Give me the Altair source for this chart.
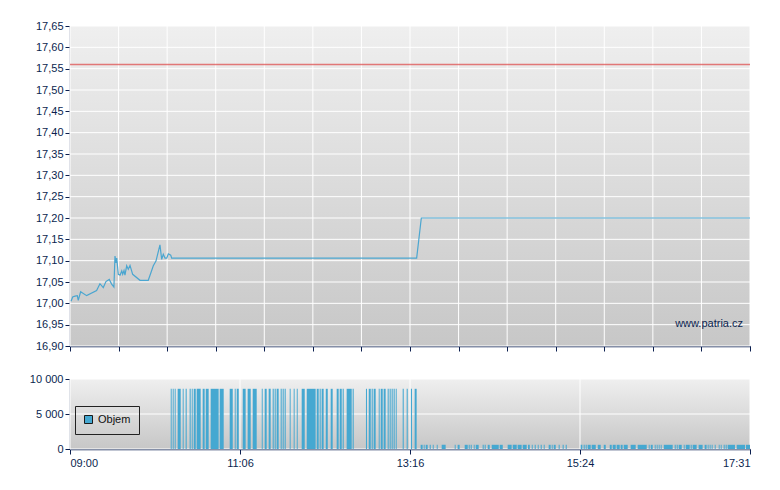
import altair as alt
import pandas as pd

# ---------------- data (minutes after 09:00) ----------------
PRICE_MIN = [0.8, 2, 3.8, 5.5, 6.2, 8, 12.5, 20, 22.5, 25,
             27, 29.5, 31.3, 33, 33.8, 34.6, 35.1, 36.3, 37.6, 38.9,
             39.6, 40.6, 41.3, 42.6, 43.8, 45.1, 47.1, 52.6, 58.8, 60.6,
             62.6, 64.6, 67.6, 68.9, 70.1, 71.4, 72.7, 73.9, 75.7, 76.4,
             260.5, 264, 511]
PRICE = [17.005, 17.015, 17.017, 17.018, 17.007, 17.027, 17.018, 17.03, 17.046, 17.037,
         17.051, 17.056, 17.045, 17.038, 17.111, 17.095, 17.106, 17.068, 17.066, 17.076,
         17.068, 17.077, 17.066, 17.088, 17.080, 17.089, 17.068, 17.054, 17.054, 17.07,
         17.088, 17.099, 17.137, 17.103, 17.115, 17.106, 17.106, 17.116, 17.113, 17.106,
         17.106, 17.20, 17.20]
REF_PRICE = [17.56]

TALL_START = [75.7, 77.2, 78.7, 80.9, 84.7, 86.9, 89.9, 91.5, 93.0, 95.2, 99.7, 102.0,
              105.7, 112.5, 120.0, 123.8, 125.3, 129.8, 133.5, 137.3, 144.1, 146.3,
              149.3, 152.3, 153.8, 155.3, 158.3, 159.8, 161.3, 165.1, 168.1, 170.4,
              174.1, 177.9, 185.4, 187.6, 189.1, 192.2, 195.9, 200.4, 202.7, 204.9,
              207.9, 212.4, 222.4, 224.5, 226.7, 228.2, 232.0, 233.5, 235.7, 238.7,
              240.2, 241.7, 243.2, 244.8, 250.0, 253.0, 256.2, 259.0]
TALL_END = [76.4, 77.9, 79.4, 83.2, 85.4, 87.7, 90.7, 92.2, 94.5, 98.2, 101.2, 104.2,
            111.7, 115.5, 122.3, 124.5, 126.8, 132.0, 135.8, 140.3, 144.8, 147.8,
            150.8, 153.1, 154.6, 156.8, 159.1, 160.6, 162.1, 165.8, 168.8, 171.1,
            176.4, 184.6, 186.9, 188.4, 190.6, 193.7, 197.4, 201.9, 204.2, 205.7,
            211.7, 213.2, 223.2, 226.0, 227.5, 229.7, 232.7, 235.0, 237.2, 239.5,
            241.0, 242.5, 244.0, 245.5, 250.8, 253.8, 257.0, 260.5]
TALL_VOL = 8600

SMALL_START = [263.5, 265.8, 267.3, 270.3, 272.6, 275.6, 279.3, 289.1, 291.3, 296.6,
               299.6, 301.1, 303.4, 304.9, 310.1, 311.6, 313.9, 316.9, 322.9, 328.9,
               332.7, 336.4, 340.2, 344.2, 347.0, 349.2, 351.5, 353.7, 356.0, 359.7,
               362.0, 363.5, 367.2, 370.2, 372.5, 383.8, 386.0, 387.5, 389.0, 392.0,
               396.6, 401.1, 405.6, 407.8, 410.8, 413.8, 416.1, 421.3, 426.6, 434.9,
               436.4, 439.4, 440.9, 442.4, 443.9, 446.2, 454.4, 455.9, 457.4, 461.2,
               462.7, 466.4, 467.9, 472.4, 476.9, 479.2, 480.7, 482.2, 484.5, 487.5,
               489.0, 491.2, 492.7, 494.2, 501.0, 508.0]
SMALL_END = [265.0, 266.5, 268.8, 271.1, 273.3, 276.3, 282.3, 289.8, 292.8, 298.9,
             300.4, 301.9, 304.1, 307.1, 310.9, 312.4, 315.4, 322.2, 325.2, 331.9,
             335.7, 339.4, 343.2, 345.5, 347.7, 350.0, 352.2, 354.5, 356.7, 361.2,
             362.7, 365.0, 368.0, 371.0, 373.3, 385.0, 386.8, 388.3, 391.3, 395.1,
             398.8, 402.6, 407.1, 410.1, 413.1, 415.3, 419.1, 425.1, 433.4, 435.6,
             437.9, 440.1, 441.6, 443.1, 444.6, 452.9, 455.2, 456.7, 459.7, 461.9,
             465.7, 467.2, 470.9, 475.4, 478.4, 479.9, 481.4, 482.9, 485.2, 488.2,
             489.7, 492.0, 493.5, 499.7, 507.3, 511.0]
SMALL_VOL = 600

SESSION_LEN = 511
TIME_LABELS = ["09:00", "11:06", "13:16", "15:24", "17:31"]
TOP_Y_MIN, TOP_Y_MAX, TOP_Y_STEP = 16.90, 17.65, 0.05
VOL_TICKS = [0, 5000, 10000]
SERIES = "Objem"
WATERMARK = "www.patria.cz"

# ---------------- styling ----------------
NAVY = "#0b1f4f"
BLUE = "#45a8d1"
LINE_BLUE = "#4ba6d0"
RED = "#dd5050"
FONT = "Liberation Sans"
W, H_TOP, H_BOT = 680, 320, 70
SPACING = 21

top_x_ticks = [SESSION_LEN * i / 14 for i in range(15)]
bot_x_ticks = [SESSION_LEN * i / 4 for i in range(5)]
n_y = int(round((TOP_Y_MAX - TOP_Y_MIN) / TOP_Y_STEP))
top_y_ticks = [round(TOP_Y_MIN + TOP_Y_STEP * i, 2) for i in range(n_y + 1)]

grad = alt.Gradient(
    gradient="linear",
    stops=[alt.GradientStop(color="#efefef", offset=0),
           alt.GradientStop(color="#c7c7c7", offset=1)],
    x1=0, x2=0, y1=0, y2=1,
)

x_scale = alt.Scale(domain=[0, SESSION_LEN], nice=False, zero=False)
y_scale_top = alt.Scale(domain=[TOP_Y_MIN, TOP_Y_MAX], nice=False, zero=False)
y_scale_bot = alt.Scale(domain=[0, 10000], nice=False)

common_axis = dict(domainColor=NAVY, tickColor=NAVY, labelColor=NAVY,
                   labelFont=FONT, labelFontSize=11, tickSize=5,
                   domainWidth=1.5, tickWidth=1, grid=False, title=None)

x_axis_top = alt.Axis(values=top_x_ticks, labels=False, **common_axis)
labels_js = "[" + ",".join("'%s'" % s for s in TIME_LABELS) + "]"
x_axis_bot = alt.Axis(values=bot_x_ticks, labelPadding=3,
                      labelExpr=labels_js + "[round(datum.value / %f)]" % (SESSION_LEN / 4),
                      **common_axis)
y_axis_top = alt.Axis(values=top_y_ticks, labelPadding=2, minExtent=57, maxExtent=57,
                      labelExpr="replace(format(datum.value, '.2f'), '.', ',')",
                      **common_axis)
y_axis_bot = alt.Axis(values=VOL_TICKS, labelPadding=2, minExtent=57, maxExtent=57,
                      labelExpr="replace(format(datum.value, ','), ',', ' ')",
                      **common_axis)

one = pd.DataFrame({"a": [0]})

# ---------------- top panel ----------------
bg_top = alt.Chart(one).mark_rect(color=grad).encode(
    x=alt.value(0), x2=alt.value("width"), y=alt.value(0), y2=alt.value("height"))

gx_top = alt.Chart(pd.DataFrame({"t": top_x_ticks})).mark_rule(color="white", strokeWidth=1).encode(
    x=alt.X("t:Q", scale=x_scale, axis=x_axis_top))
gy_top = alt.Chart(pd.DataFrame({"p": top_y_ticks})).mark_rule(color="white", strokeWidth=1).encode(
    y=alt.Y("p:Q", scale=y_scale_top, axis=y_axis_top))

price_df = pd.DataFrame({"t": PRICE_MIN, "p": PRICE})
price_line = alt.Chart(price_df).mark_line(color=LINE_BLUE, strokeWidth=1.2).encode(
    x=alt.X("t:Q", scale=x_scale, axis=x_axis_top),
    y=alt.Y("p:Q", scale=y_scale_top, axis=y_axis_top))

ref_line = alt.Chart(pd.DataFrame({"p": REF_PRICE})).mark_rule(
    color=RED, strokeWidth=1.5, opacity=0.75).encode(
    y=alt.Y("p:Q", scale=y_scale_top, axis=y_axis_top))

wm = alt.Chart(one).mark_text(align="right", baseline="middle", font=FONT,
                               fontSize=11, color=NAVY).encode(
    x=alt.value(W - 7), y=alt.value(H_TOP - 22), text=alt.value(WATERMARK))

top = alt.layer(bg_top, gx_top, gy_top, price_line, ref_line, wm).properties(
    width=W, height=H_TOP)

# ---------------- bottom panel ----------------
bars_df = pd.DataFrame({
    "s": TALL_START + SMALL_START,
    "e": TALL_END + SMALL_END,
    "v": [TALL_VOL] * len(TALL_START) + [SMALL_VOL] * len(SMALL_START),
    "series": [SERIES] * (len(TALL_START) + len(SMALL_START)),
})

bg_bot = alt.Chart(one).mark_rect(color=grad).encode(
    x=alt.value(0), x2=alt.value("width"), y=alt.value(0), y2=alt.value("height"))
gx_bot = alt.Chart(pd.DataFrame({"t": bot_x_ticks})).mark_rule(color="white", strokeWidth=1).encode(
    x=alt.X("t:Q", scale=x_scale, axis=x_axis_bot))
gy_bot = alt.Chart(pd.DataFrame({"v": VOL_TICKS})).mark_rule(color="white", strokeWidth=1).encode(
    y=alt.Y("v:Q", scale=y_scale_bot, axis=y_axis_bot))

bars = alt.Chart(bars_df).mark_rect().encode(
    x=alt.X("s:Q", scale=x_scale, axis=x_axis_bot),
    x2="e:Q",
    y=alt.Y("v:Q", scale=y_scale_bot, axis=y_axis_bot),
    y2=alt.datum(0),
    color=alt.Color("series:N", scale=alt.Scale(domain=[SERIES], range=[BLUE]),
                    legend=alt.Legend(orient="none", legendX=5,
                                      legendY=H_TOP + SPACING + 7 + 5 + 25 + 2,
                                      title=None,
                                      strokeColor="#222222", padding=8,
                                      symbolType="square", symbolSize=64,
                                      symbolStrokeColor="#1a1a1a", symbolStrokeWidth=1,
                                      symbolOpacity=1,
                                      labelFont=FONT, labelFontSize=11,
                                      labelColor="#111111", labelOffset=4)),
)

bottom = alt.layer(bg_bot, gx_bot, gy_bot, bars).properties(width=W, height=H_BOT)

chart = alt.vconcat(top, bottom, spacing=SPACING).properties(
    padding={"left": 5, "top": 12, "right": 5, "bottom": 5}
).configure_view(stroke=None)

chart.save("out.html", embed_options={"renderer": "svg", "actions": False})
